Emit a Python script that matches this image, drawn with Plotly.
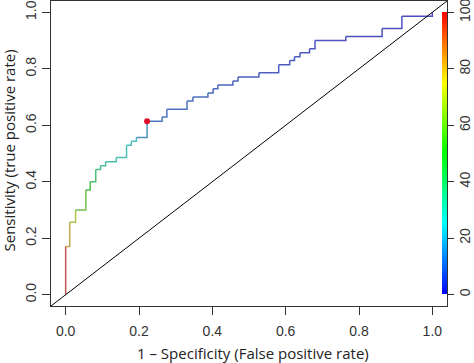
import colorsys
import plotly.graph_objects as go

# ROC step points (1 - specificity, sensitivity)
fpr = [0.000, 0.011, 0.027, 0.055, 0.067, 0.082, 0.095, 0.109, 0.138, 0.166,
       0.179, 0.193, 0.222, 0.263, 0.276, 0.331, 0.347, 0.388, 0.402, 0.415,
       0.456, 0.470, 0.527, 0.581, 0.611, 0.624, 0.639, 0.665, 0.680, 0.764,
       0.863, 0.917, 1.000]
tpr = [0.171, 0.257, 0.300, 0.371, 0.400, 0.443, 0.457, 0.471, 0.486, 0.529,
       0.543, 0.557, 0.614, 0.629, 0.657, 0.686, 0.700, 0.714, 0.729, 0.743,
       0.757, 0.771, 0.786, 0.814, 0.829, 0.843, 0.857, 0.871, 0.900, 0.914,
       0.943, 0.986, 1.000]
# cutoff (colour) at each step
cutoff = [98, 80, 72, 58, 50, 42, 36, 33, 30, 28,
          26, 25, 15, 10, 9, 8, 7, 7, 6, 6,
          5, 5, 4, 4, 3, 3, 3, 2, 2, 2,
          1, 1, 0]

x_ticks = [0.0, 0.2, 0.4, 0.6, 0.8, 1.0]
y_ticks = [0.0, 0.2, 0.4, 0.6, 0.8, 1.0]
cb_ticks = [0, 20, 40, 60, 80, 100]

x_title = "1 \u2013 Specificity (False positive rate)"
y_title = "Sensitivity (true positive rate)"

AX_RANGE = [-0.04, 1.04]
PLOT_H = 363 - 1 - 57


def rainbow(c, s=1.0, v=1.0):
    h = (1 - c / 100.0) * (240.0 / 360.0)
    r, g, b = colorsys.hsv_to_rgb(h, s, v)
    return "rgb(%d,%d,%d)" % (round(r * 255), round(g * 255), round(b * 255))


rainbow_scale = [[0.0, "rgb(0,0,255)"], [0.25, "rgb(0,255,255)"],
                 [0.5, "rgb(0,255,0)"], [0.75, "rgb(255,255,0)"],
                 [1.0, "rgb(255,0,0)"]]

fig = go.Figure()

# diagonal reference line y = x across the whole plotting region
fig.add_shape(type="line", xref="x", yref="y",
              x0=AX_RANGE[0], y0=AX_RANGE[0], x1=AX_RANGE[1], y1=AX_RANGE[1],
              line=dict(color="black", width=1))

# coloured step curve
px, py = 0.0, 0.0
for xk, yk, ck in zip(fpr, tpr, cutoff):
    fig.add_trace(go.Scatter(
        x=[px, xk, xk], y=[py, py, yk], mode="lines",
        line=dict(color=rainbow(ck, 0.6, 0.75), width=1.5),
        showlegend=False, hoverinfo="skip"))
    px, py = xk, yk

# colour bar driven by the cutoffs
cb_len = PLOT_H / 1.08
fig.add_trace(go.Scatter(
    x=fpr, y=tpr, mode="markers", showlegend=False, hoverinfo="skip",
    marker=dict(size=1, opacity=0, color=cutoff, cmin=0, cmax=100,
                colorscale=rainbow_scale, showscale=True,
                colorbar=dict(x=0.988, xanchor="left", xpad=0, ypad=0,
                              y=0.5, yanchor="middle", len=cb_len,
                              lenmode="pixels", thickness=5,
                              outlinewidth=0, ticks="outside", ticklen=7,
                              tickcolor="#333", tickvals=cb_ticks,
                              tickangle=-90, ticklabeloverflow="allow",
                              tickfont=dict(family="Liberation Sans",
                                            size=14, color="#333")))))

# optimal point (max Youden index)
best = max(range(len(fpr)), key=lambda i: tpr[i] - fpr[i])
fig.add_trace(go.Scatter(
    x=[fpr[best]], y=[tpr[best]], mode="markers",
    marker=dict(color="#e0102a", size=6), showlegend=False,
    hoverinfo="skip"))

axis_common = dict(range=AX_RANGE, showgrid=False, zeroline=False,
                   showline=True, mirror=True, linecolor="#333", linewidth=1,
                   ticks="outside", ticklen=8, tickcolor="#333",
                   tickformat=".1f",
                   tickfont=dict(family="Liberation Sans", size=14,
                                 color="#333"))

fig.update_layout(
    width=474, height=363,
    margin=dict(l=51, r=27, t=1, b=57, autoexpand=False),
    paper_bgcolor="white", plot_bgcolor="white",
    xaxis=dict(tickvals=x_ticks, ticklabelstandoff=4, **axis_common),
    yaxis=dict(tickvals=y_ticks, tickangle=-90, **axis_common),
    annotations=[
        dict(text=x_title, xref="paper", yref="paper", x=0.51, y=0,
             xanchor="center", yanchor="middle", yshift=-47,
             showarrow=False,
             font=dict(family="Open Sans", size=15, color="#222")),
        dict(text=y_title, xref="paper", yref="paper", x=0, y=0.5,
             xanchor="center", yanchor="middle", xshift=-43, yshift=3,
             textangle=-90, showarrow=False,
             font=dict(family="Open Sans", size=15, color="#222")),
    ],
)

fig.write_html("out.html", config={"displayModeBar": False},
               post_script="document.body.style.margin='0px';")
